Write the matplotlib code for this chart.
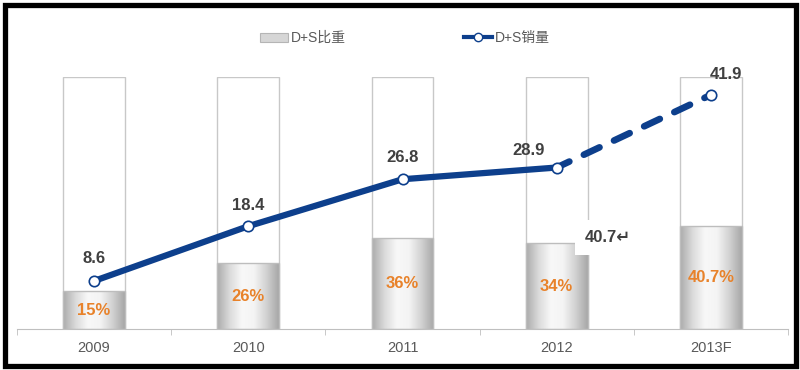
import matplotlib.pyplot as plt
import numpy as np
from matplotlib.colors import LinearSegmentedColormap
from matplotlib.lines import Line2D
from matplotlib.patches import Patch, Rectangle

plt.rcParams['font.family'] = ['Liberation Sans', 'Noto Sans CJK SC', 'DejaVu Sans']

years = ['2009', '2010', '2011', '2012', '2013F']
share = [0.15, 0.26, 0.36, 0.34, 0.407]
share_labels = ['15%', '26%', '36%', '34%', '40.7%']
sales = [8.6, 18.4, 26.8, 28.9, 41.9]
sales_labels = ['8.6', '18.4', '26.8', '28.9', '41.9']
# label offsets in points (dx, dy)
label_offsets = [(0, 16), (0, 15), (0, 16), (-20, 12), (11, 15)]

blue = '#0d3f8c'
orange = '#e8822a'
dark = '#404040'
gray_txt = '#595959'

fig = plt.figure(figsize=(8, 3.7), dpi=100)
fig.patch.set_facecolor('white')
ax = fig.add_axes([17 / 800, 1 - 329 / 370, 771 / 800, 252 / 370])
x = np.arange(len(years))
w = 0.40

cyl = LinearSegmentedColormap.from_list(
    'cyl', ['#acacac', '#dadada', '#f8f8f8', '#f4f4f4', '#d2d2d2', '#a8a8a8'])
grad = np.linspace(0, 1, 100)[None, :]

# full-height white bars with outline
ax.bar(x, [1] * len(x), width=w, facecolor='white', edgecolor='#c8c8c8',
       linewidth=1, zorder=1)
for i, s in enumerate(share):
    ax.imshow(grad, cmap=cyl, extent=[i - w / 2, i + w / 2, 0, s],
              aspect='auto', zorder=2)
    ax.text(i, s / 2, share_labels[i], ha='center', va='center',
            color=orange, fontsize=12, fontweight='bold', zorder=4)
ax.bar(x, share, width=w, fill=False, edgecolor='#bdbdbd', linewidth=1, zorder=3)

ax.set_xlim(-0.5, len(x) - 0.5)
ax.set_ylim(0, 1)
for sp in ['top', 'left', 'right']:
    ax.spines[sp].set_visible(False)
ax.spines['bottom'].set_color('#bfbfbf')
ax.set_yticks([])
ax.set_xticks(x)
ax.set_xticklabels(years, fontsize=10.5, color=gray_txt)
ax.tick_params(axis='x', which='major', length=0, pad=9)
ax.set_xticks(np.arange(-0.5, len(x)), minor=True)
ax.tick_params(axis='x', which='minor', length=4, color='#bfbfbf')

ax.text(3.33, 0.365, '40.7\u21b5', ha='center', va='center', color=dark,
        fontsize=12, fontweight='bold', zorder=6,
        family=['Liberation Sans', 'DejaVu Sans'],
        bbox=dict(boxstyle='square,pad=0.6', facecolor='white', edgecolor='none'))

ax2 = ax.twinx()
ax2.set_ylim(0, 45.1)
ax2.axis('off')
ax2.plot(x[:4], sales[:4], color=blue, lw=4.5, solid_capstyle='round', zorder=3)
ax2.plot(x[3:], sales[3:], color=blue, lw=4.8, linestyle=(0.5, (2.6, 2.4)),
         dash_capstyle='round', zorder=3)
ax2.plot(x, sales, linestyle='none', marker='o', markersize=7.5,
         markerfacecolor='white', markeredgecolor=blue, markeredgewidth=1.2, zorder=4)
for i, v in enumerate(sales):
    ax2.annotate(sales_labels[i], (x[i], v), xytext=label_offsets[i],
                 textcoords='offset points', ha='center', va='center',
                 color=dark, fontsize=12, fontweight='bold', zorder=5)

handles = [Patch(facecolor='#d6d6d6', edgecolor='#b5b5b5', linewidth=0.8),
           Line2D([], [], color=blue, lw=3, marker='o', markersize=6,
                  markerfacecolor='white', markeredgecolor=blue)]
fig.legend(handles, ['D+S比重', 'D+S销量'], loc='center',
           bbox_to_anchor=(405 / 800, 1 - 38 / 370), ncol=2, frameon=False,
           fontsize=10, labelcolor=gray_txt, columnspacing=8.5,
           handlelength=2.0, handleheight=0.6, handletextpad=0.2)

fig.add_artist(Rectangle((4.5 / 800, 4.5 / 370), 791 / 800, 361 / 370,
                         transform=fig.transFigure, fill=False,
                         edgecolor='black', linewidth=3.8))

fig.savefig('out.png', dpi=100, facecolor='white')
